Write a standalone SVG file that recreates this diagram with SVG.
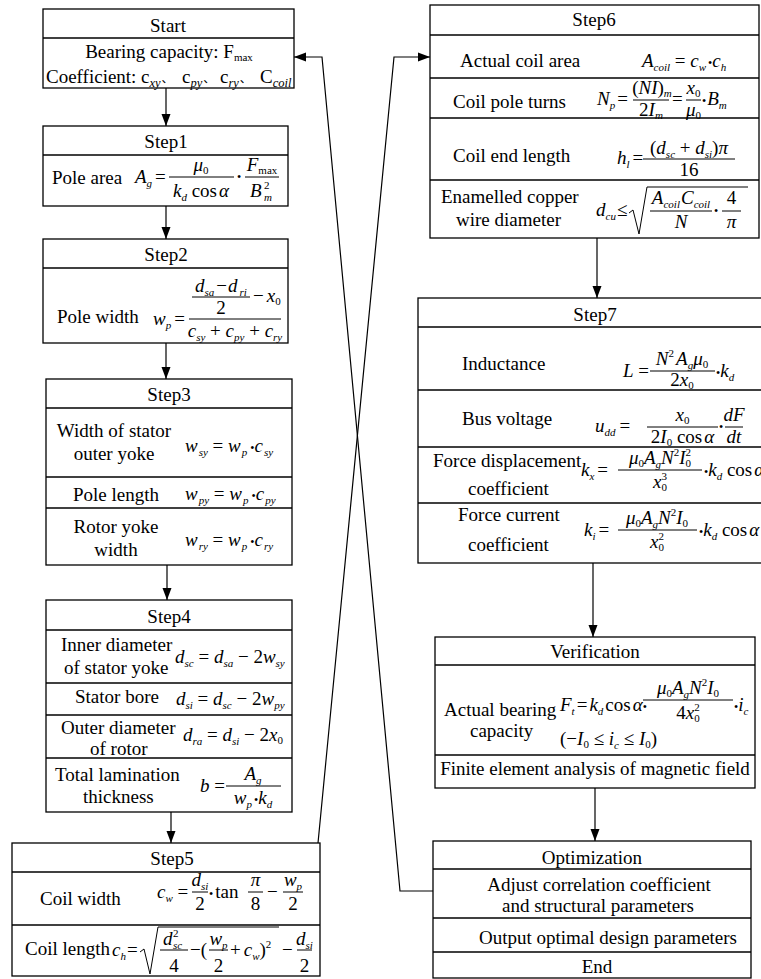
<svg xmlns="http://www.w3.org/2000/svg" width="761" height="979" viewBox="0 0 761 979">
<defs>
<style>
.b{fill:#fff;stroke:#000;stroke-width:1.3}
.sep{stroke:#000;stroke-width:1.3}
.fb{stroke:#000;stroke-width:1}
.cn{fill:none;stroke:#000;stroke-width:1.2}
.rad{fill:none;stroke:#000;stroke-width:1}
text{font-family:"Liberation Serif","Times New Roman","Noto Sans CJK SC",serif;font-size:19px;fill:#000}
.c{text-anchor:middle}
.i{font-style:italic}
.s{font-size:11px;font-style:italic}
.s2{font-size:12.5px;font-style:italic}
.u{font-size:11px;font-style:normal}
.d{font-size:12px;font-style:normal}
</style>
<marker id="ah" markerWidth="12" markerHeight="10" refX="12" refY="5" orient="auto" markerUnits="userSpaceOnUse"><path d="M0,0.5 L12,5 L0,9.5 z" fill="#000"/></marker>
</defs>
<rect width="761" height="979" fill="#fff"/>

<g id="start">
<rect class="b" x="43" y="9" width="251" height="79"/>
<line class="sep" x1="43" y1="38" x2="294" y2="38"/>
<text class="c" x="168" y="32">Start</text>
<text class="c" x="169" y="58">Bearing capacity: F<tspan class="u" dy="3">max</tspan></text>
<text x="46" y="83">Coefficient: <tspan x="141">c</tspan><tspan class="s2" dy="4">xy</tspan><tspan class="d" dy="-4" dx="1">、</tspan><tspan x="182">c</tspan><tspan class="s2" dy="4">py</tspan><tspan class="d" dy="-4" dx="1">、</tspan><tspan x="220">c</tspan><tspan class="s2" dy="4">ry</tspan><tspan class="d" dy="-4" dx="1">、</tspan><tspan x="260">C</tspan><tspan class="s2" dy="4">coil</tspan></text>
</g>

<g id="step1">
<rect class="b" x="43" y="126" width="245" height="80"/>
<line class="sep" x1="43" y1="155" x2="288" y2="155"/>
<text class="c" x="166" y="148">Step1</text>
<text x="52" y="184">Pole area</text>
<text x="135" y="183"><tspan class="i">A</tspan><tspan class="s" dy="4">g</tspan><tspan dy="-4" dx="3">=</tspan></text>
<line class="fb" x1="169" y1="177" x2="234" y2="177"/>
<text class="c" x="201" y="171"><tspan class="i">μ</tspan><tspan class="u" dy="3">0</tspan></text>
<text class="c" x="201" y="197"><tspan class="i">k</tspan><tspan class="s" dy="4">d</tspan><tspan dy="-4"> cos</tspan><tspan class="i" dx="2">α</tspan></text>
<text class="d c" x="239" y="181">•</text>
<line class="fb" x1="245" y1="177" x2="279" y2="177"/>
<text class="c" x="262" y="171"><tspan class="i">F</tspan><tspan class="u" dy="3">max</tspan></text>
<text class="i" x="250" y="197">B</text>
<text class="u" x="264" y="189">2</text>
<text class="s" x="264" y="201">m</text>
</g>

<g id="step2">
<rect class="b" x="43" y="239" width="245" height="104"/>
<line class="sep" x1="43" y1="268" x2="288" y2="268"/>
<text class="c" x="166" y="261">Step2</text>
<text x="57" y="323">Pole width</text>
<text x="153" y="325"><tspan class="i">w</tspan><tspan class="s" dy="4">p</tspan><tspan dy="-4" dx="3">=</tspan></text>
<line class="fb" x1="189" y1="319" x2="281" y2="319"/>
<line class="fb" x1="192" y1="297" x2="250" y2="297"/>
<text class="c" x="221" y="292"><tspan class="i">d</tspan><tspan class="s" dy="4">sa</tspan><tspan dy="-4" dx="2">−</tspan><tspan class="i" dx="1">d</tspan><tspan class="s" dy="4" dx="2">ri</tspan></text>
<text class="c" x="221" y="314">2</text>
<text x="253" y="302">−<tspan class="i" dx="3">x</tspan><tspan class="u" dy="3">0</tspan></text>
<text class="c" x="235" y="337"><tspan class="i">c</tspan><tspan class="s" dy="4">sy</tspan><tspan dy="-4"> + </tspan><tspan class="i">c</tspan><tspan class="s" dy="4">py</tspan><tspan dy="-4"> + </tspan><tspan class="i">c</tspan><tspan class="s" dy="4">ry</tspan></text>
</g>

<g id="step3">
<rect class="b" x="46" y="379" width="246" height="186"/>
<line class="sep" x1="46" y1="408" x2="292" y2="408"/>
<line class="sep" x1="46" y1="477" x2="292" y2="477"/>
<line class="sep" x1="46" y1="508" x2="292" y2="508"/>
<text class="c" x="169" y="401">Step3</text>
<text class="c" x="114" y="437">Width of stator</text>
<text class="c" x="114" y="460">outer yoke</text>
<text x="185" y="452"><tspan class="i">w</tspan><tspan class="s" dy="4" dx="1">sy</tspan><tspan dy="-4"> = </tspan><tspan class="i">w</tspan><tspan class="s" dy="4" dx="1">p</tspan><tspan class="d" dy="-4" dx="3">•</tspan><tspan class="i">c</tspan><tspan class="s" dy="4" dx="1">sy</tspan></text>
<text class="c" x="116" y="501">Pole length</text>
<text x="185" y="500"><tspan class="i">w</tspan><tspan class="s" dy="4" dx="1">py</tspan><tspan dy="-4"> = </tspan><tspan class="i">w</tspan><tspan class="s" dy="4" dx="1">p</tspan><tspan class="d" dy="-4" dx="3">•</tspan><tspan class="i">c</tspan><tspan class="s" dy="4" dx="1">py</tspan></text>
<text class="c" x="116" y="533">Rotor yoke</text>
<text class="c" x="116" y="556">width</text>
<text x="185" y="546"><tspan class="i">w</tspan><tspan class="s" dy="4" dx="1">ry</tspan><tspan dy="-4"> = </tspan><tspan class="i">w</tspan><tspan class="s" dy="4" dx="1">p</tspan><tspan class="d" dy="-4" dx="3">•</tspan><tspan class="i">c</tspan><tspan class="s" dy="4" dx="1">ry</tspan></text>
</g>

<g id="step4">
<rect class="b" x="46" y="600" width="246" height="212"/>
<line class="sep" x1="46" y1="630" x2="292" y2="630"/>
<line class="sep" x1="46" y1="683" x2="292" y2="683"/>
<line class="sep" x1="46" y1="715" x2="292" y2="715"/>
<line class="sep" x1="46" y1="758" x2="292" y2="758"/>
<text class="c" x="169" y="623">Step4</text>
<text x="61" y="651">Inner diameter</text>
<text x="64" y="674">of stator yoke</text>
<text x="175" y="663"><tspan class="i">d</tspan><tspan class="s" dy="4">sc</tspan><tspan dy="-4"> = </tspan><tspan class="i">d</tspan><tspan class="s" dy="4">sa</tspan><tspan dy="-4"> − 2</tspan><tspan class="i">w</tspan><tspan class="s" dy="4">sy</tspan></text>
<text x="75" y="703">Stator bore</text>
<text x="176" y="705"><tspan class="i">d</tspan><tspan class="s" dy="4">si</tspan><tspan dy="-4"> = </tspan><tspan class="i">d</tspan><tspan class="s" dy="4">sc</tspan><tspan dy="-4"> − 2</tspan><tspan class="i">w</tspan><tspan class="s" dy="4">py</tspan></text>
<text x="61" y="734">Outer diameter</text>
<text x="90" y="755">of rotor</text>
<text x="183" y="741"><tspan class="i">d</tspan><tspan class="s" dy="4">ra</tspan><tspan dy="-4"> = </tspan><tspan class="i">d</tspan><tspan class="s" dy="4">si</tspan><tspan dy="-4"> − 2</tspan><tspan class="i">x</tspan><tspan class="u" dy="3">0</tspan></text>
<text x="55" y="781">Total lamination</text>
<text x="83" y="803">thickness</text>
<text x="200" y="792"><tspan class="i">b</tspan> =</text>
<line class="fb" x1="226" y1="786" x2="281" y2="786"/>
<text class="c" x="253" y="780"><tspan class="i">A</tspan><tspan class="s" dy="4">g</tspan></text>
<text class="c" x="253" y="804"><tspan class="i">w</tspan><tspan class="s" dy="4">p</tspan><tspan class="d" dy="-4" dx="2">•</tspan><tspan class="i">k</tspan><tspan class="s" dy="4">d</tspan></text>
</g>

<g id="step5">
<rect class="b" x="12" y="843" width="308" height="133"/>
<line class="sep" x1="12" y1="872" x2="320" y2="872"/>
<line class="sep" x1="12" y1="925" x2="320" y2="925"/>
<text class="c" x="172" y="865">Step5</text>
<text x="40" y="905">Coil width</text>
<text x="157" y="898"><tspan class="i">c</tspan><tspan class="s" dy="4">w</tspan><tspan dy="-4"> =</tspan></text>
<line class="fb" x1="192" y1="892" x2="208" y2="892"/>
<text class="c" x="200" y="886"><tspan class="i">d</tspan><tspan class="s" dy="4">si</tspan></text>
<text class="c" x="200" y="910">2</text>
<text x="209" y="898"><tspan class="d">•</tspan><tspan dx="2">tan</tspan></text>
<line class="fb" x1="248" y1="892" x2="263" y2="892"/>
<text class="c i" x="255.5" y="886">π</text>
<text class="c" x="255.5" y="910">8</text>
<text x="267" y="898">−</text>
<line class="fb" x1="283" y1="892" x2="303" y2="892"/>
<text class="c" x="293" y="886"><tspan class="i">w</tspan><tspan class="s" dy="4">p</tspan></text>
<text class="c" x="293" y="910">2</text>
<text x="25" y="955">Coil length</text>
<text x="112" y="956"><tspan class="i">c</tspan><tspan class="s" dy="4">h</tspan><tspan dy="-4" dx="1">=</tspan></text>
<path class="rad" d="M140,952 L144,949 L150,974 L158,927 L279,927"/>
<line class="fb" x1="160" y1="950" x2="188" y2="950"/>
<text class="i" x="163" y="945">d</text>
<text class="u" x="173" y="937">2</text>
<text class="s" x="173" y="949">sc</text>
<text class="c" x="174" y="972">4</text>
<text x="190" y="956">−(</text>
<line class="fb" x1="209" y1="950" x2="228" y2="950"/>
<text class="c" x="218.5" y="945"><tspan class="i">w</tspan><tspan class="s" dy="4">p</tspan></text>
<text class="c" x="218.5" y="972">2</text>
<text x="230" y="956">+<tspan class="i" dx="3">c</tspan><tspan class="s" dy="4">w</tspan><tspan dy="-4">)</tspan><tspan class="u" dy="-8">2</tspan></text>
<text x="282" y="956">−</text>
<line class="fb" x1="297" y1="950" x2="312" y2="950"/>
<text class="c" x="304.5" y="945"><tspan class="i">d</tspan><tspan class="s" dy="4">si</tspan></text>
<text class="c" x="304.5" y="972">2</text>
</g>

<g id="step6">
<rect class="b" x="430" y="5" width="329" height="233"/>
<line class="sep" x1="430" y1="35" x2="759" y2="35"/>
<line class="sep" x1="430" y1="78" x2="759" y2="78"/>
<line class="sep" x1="430" y1="118" x2="759" y2="118"/>
<line class="sep" x1="430" y1="180" x2="759" y2="180"/>
<text class="c" x="594" y="26">Step6</text>
<text x="460" y="67">Actual coil area</text>
<text x="642" y="67"><tspan class="i">A</tspan><tspan class="s" dy="4">coil</tspan><tspan dy="-4"> = </tspan><tspan class="i">c</tspan><tspan class="s" dy="4">w</tspan><tspan class="d" dy="-4" dx="2">•</tspan><tspan class="i">c</tspan><tspan class="s" dy="4">h</tspan></text>
<text x="453" y="108">Coil pole turns</text>
<text x="597" y="105"><tspan class="i">N</tspan><tspan class="s" dy="4">p</tspan><tspan dy="-4" dx="2">=</tspan></text>
<line class="fb" x1="633" y1="100" x2="669" y2="100"/>
<text class="c" x="652" y="94">(<tspan class="i">NI</tspan>)<tspan class="s" dy="3">m</tspan></text>
<text class="c" x="651" y="116">2<tspan class="i">I</tspan><tspan class="s" dy="3">m</tspan></text>
<text x="672" y="105">=</text>
<line class="fb" x1="686" y1="100" x2="701" y2="100"/>
<text class="c" x="693.5" y="94"><tspan class="i">x</tspan><tspan class="u" dy="3">0</tspan></text>
<text class="c" x="693.5" y="116"><tspan class="i">μ</tspan><tspan class="u" dy="3">0</tspan></text>
<text x="702" y="105"><tspan class="d">•</tspan><tspan class="i" dx="1">B</tspan><tspan class="s" dy="4">m</tspan></text>
<text x="453" y="162">Coil end length</text>
<text x="617" y="164"><tspan class="i">h</tspan><tspan class="s" dy="4">l</tspan><tspan dy="-4" dx="3">=</tspan></text>
<line class="fb" x1="643" y1="159" x2="735" y2="159"/>
<text class="c" x="689" y="154">(<tspan class="i">d</tspan><tspan class="s" dy="4">sc</tspan><tspan dy="-4"> + </tspan><tspan class="i">d</tspan><tspan class="s" dy="4">si</tspan><tspan dy="-4">)</tspan><tspan class="i">π</tspan></text>
<text class="c" x="689" y="176">16</text>
<text x="441" y="203">Enamelled copper</text>
<text x="456" y="226">wire diameter</text>
<text x="596" y="216"><tspan class="i">d</tspan><tspan class="s" dy="4">cu</tspan><tspan dy="-4" dx="1">≤</tspan></text>
<path class="rad" d="M629,213 L633,210 L639,234 L647,187 L748,187"/>
<line class="fb" x1="650" y1="211" x2="712" y2="211"/>
<text class="c" x="681" y="204"><tspan class="i">A</tspan><tspan class="s" dy="4">coil</tspan><tspan class="i" dy="-4" dx="1">C</tspan><tspan class="s" dy="4">coil</tspan></text>
<text class="c i" x="681" y="228">N</text>
<text class="d" x="714" y="215">•</text>
<line class="fb" x1="722" y1="211" x2="741" y2="211"/>
<text class="c" x="731.5" y="204">4</text>
<text class="c i" x="731.5" y="228">π</text>
</g>

<g id="step7">
<rect class="b" x="418" y="298" width="350" height="265"/>
<line class="sep" x1="418" y1="327" x2="768" y2="327"/>
<line class="sep" x1="418" y1="390" x2="768" y2="390"/>
<line class="sep" x1="418" y1="447" x2="768" y2="447"/>
<line class="sep" x1="418" y1="503" x2="768" y2="503"/>
<text class="c" x="595" y="321">Step7</text>
<text x="462" y="370">Inductance</text>
<text x="623" y="377"><tspan class="i">L</tspan> =</text>
<line class="fb" x1="650" y1="371" x2="715" y2="371"/>
<text class="c" x="682" y="365"><tspan class="i">N</tspan><tspan class="u" dy="-8">2</tspan><tspan class="i" dy="8" dx="2">A</tspan><tspan class="s" dy="4">g</tspan><tspan class="i" dy="-4">μ</tspan><tspan class="u" dy="3">0</tspan></text>
<text class="c" x="682" y="386">2<tspan class="i">x</tspan><tspan class="u" dy="3">0</tspan></text>
<text x="716" y="377"><tspan class="d">•</tspan><tspan class="i">k</tspan><tspan class="s" dy="4">d</tspan></text>
<text x="462" y="425">Bus voltage</text>
<text x="595" y="432"><tspan class="i">u</tspan><tspan class="s" dy="4">dd</tspan><tspan dy="-4" dx="4">=</tspan></text>
<line class="fb" x1="647" y1="427" x2="718" y2="427"/>
<text class="c" x="682.5" y="421"><tspan class="i">x</tspan><tspan class="u" dy="3">0</tspan></text>
<text class="c" x="682.5" y="443">2<tspan class="i">I</tspan><tspan class="u" dy="3">0</tspan><tspan dy="-3"> cos</tspan><tspan class="i" dx="2">α</tspan></text>
<text class="d" x="719" y="431">•</text>
<line class="fb" x1="725" y1="427" x2="743" y2="427"/>
<text class="c i" x="734" y="421">dF</text>
<text class="c i" x="734" y="443">dt</text>
<text x="433" y="467">Force displacement</text>
<text x="468" y="495">coefficient</text>
<text x="581" y="476"><tspan class="i">k</tspan><tspan class="s" dy="4">x</tspan><tspan dy="-4" dx="3">=</tspan></text>
<line class="fb" x1="618" y1="470" x2="702" y2="470"/>
<text class="c" x="660" y="464"><tspan class="i">μ</tspan><tspan class="u" dy="3">0</tspan><tspan class="i" dy="-3">A</tspan><tspan class="s" dy="4">g</tspan><tspan class="i" dy="-4">N</tspan><tspan class="u" dy="-8">2</tspan><tspan class="i" dy="8">I</tspan><tspan class="u" dy="3">0</tspan><tspan class="u" dx="-5.5" dy="-11">2</tspan></text>
<text class="c" x="660" y="488"><tspan class="i">x</tspan><tspan class="u" dy="3">0</tspan><tspan class="u" dx="-5.5" dy="-11">3</tspan></text>
<text x="704" y="476"><tspan class="d">•</tspan><tspan class="i">k</tspan><tspan class="s" dy="4">d</tspan><tspan dy="-4"> cos</tspan><tspan class="i" dx="2">α</tspan></text>
<text x="458" y="521">Force current</text>
<text x="468" y="551">coefficient</text>
<text x="584" y="536"><tspan class="i">k</tspan><tspan class="s" dy="4">i</tspan><tspan dy="-4" dx="3">=</tspan></text>
<line class="fb" x1="618" y1="530" x2="697" y2="530"/>
<text class="c" x="657" y="524"><tspan class="i">μ</tspan><tspan class="u" dy="3">0</tspan><tspan class="i" dy="-3">A</tspan><tspan class="s" dy="4">g</tspan><tspan class="i" dy="-4">N</tspan><tspan class="u" dy="-8">2</tspan><tspan class="i" dy="8">I</tspan><tspan class="u" dy="3">0</tspan></text>
<text class="c" x="657" y="548"><tspan class="i">x</tspan><tspan class="u" dy="3">0</tspan><tspan class="u" dx="-5.5" dy="-11">2</tspan></text>
<text x="699" y="536"><tspan class="d">•</tspan><tspan class="i">k</tspan><tspan class="s" dy="4">d</tspan><tspan dy="-4"> cos</tspan><tspan class="i" dx="2">α</tspan></text>
</g>

<g id="verification">
<rect class="b" x="435" y="637" width="320" height="151"/>
<line class="sep" x1="435" y1="665" x2="755" y2="665"/>
<line class="sep" x1="435" y1="755" x2="755" y2="755"/>
<text class="c" x="595" y="658">Verification</text>
<text x="444" y="716">Actual bearing</text>
<text x="470" y="737">capacity</text>
<text x="560" y="711"><tspan class="i">F</tspan><tspan class="s" dy="4">t</tspan><tspan dy="-4" dx="2">=</tspan><tspan class="i" dx="2">k</tspan><tspan class="s" dy="4">d</tspan><tspan dy="-4" dx="2">cos</tspan><tspan class="i" dx="2">α</tspan><tspan class="d">•</tspan></text>
<line class="fb" x1="643" y1="700" x2="733" y2="700"/>
<text class="c" x="688" y="694"><tspan class="i">μ</tspan><tspan class="u" dy="3">0</tspan><tspan class="i" dy="-3">A</tspan><tspan class="s" dy="4">g</tspan><tspan class="i" dy="-4">N</tspan><tspan class="u" dy="-8">2</tspan><tspan class="i" dy="8">I</tspan><tspan class="u" dy="3">0</tspan></text>
<text class="c" x="688" y="719">4<tspan class="i">x</tspan><tspan class="u" dy="3">0</tspan><tspan class="u" dx="-5.5" dy="-11">2</tspan></text>
<text x="734" y="711"><tspan class="d">•</tspan><tspan class="i">i</tspan><tspan class="s" dy="4">c</tspan></text>
<text x="560" y="745">(−<tspan class="i">I</tspan><tspan class="u" dy="3">0</tspan><tspan dy="-3"> ≤ </tspan><tspan class="i">i</tspan><tspan class="s" dy="4">c</tspan><tspan dy="-4"> ≤ </tspan><tspan class="i">I</tspan><tspan class="u" dy="3">0</tspan><tspan dy="-3">)</tspan></text>
<text class="c" x="595" y="775">Finite element analysis of magnetic field</text>
</g>

<g id="optimization">
<rect class="b" x="433" y="841" width="318" height="137"/>
<line class="sep" x1="433" y1="869" x2="751" y2="869"/>
<line class="sep" x1="433" y1="918" x2="751" y2="918"/>
<line class="sep" x1="433" y1="952" x2="751" y2="952"/>
<text class="c" x="592" y="864">Optimization</text>
<text class="c" x="599" y="891">Adjust correlation coefficient</text>
<text class="c" x="598" y="912">and structural parameters</text>
<text class="c" x="608" y="944">Output optimal design parameters</text>
<text class="c" x="597" y="973">End</text>
</g>

<g id="connectors">
<line class="cn" x1="166" y1="88" x2="166" y2="126" marker-end="url(#ah)"/>
<line class="cn" x1="166" y1="206" x2="166" y2="239" marker-end="url(#ah)"/>
<line class="cn" x1="166" y1="343" x2="166" y2="379" marker-end="url(#ah)"/>
<line class="cn" x1="167" y1="565" x2="167" y2="600" marker-end="url(#ah)"/>
<line class="cn" x1="171" y1="812" x2="171" y2="843" marker-end="url(#ah)"/>
<line class="cn" x1="597" y1="238" x2="597" y2="298" marker-end="url(#ah)"/>
<line class="cn" x1="593" y1="563" x2="593" y2="637" marker-end="url(#ah)"/>
<line class="cn" x1="595" y1="788" x2="595" y2="841" marker-end="url(#ah)"/>
<polyline class="cn" points="433,891 400,891 322,57 294,57" marker-end="url(#ah)"/>
<polyline class="cn" points="318,843 394,57 430,57" marker-end="url(#ah)"/>
</g>
</svg>
